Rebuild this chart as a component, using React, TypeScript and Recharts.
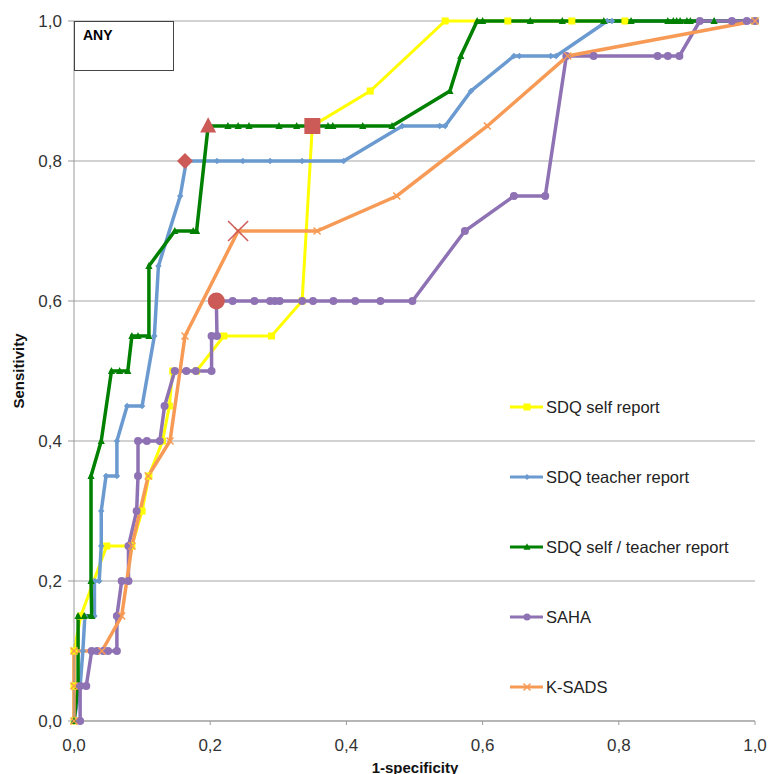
import React from 'react';
import { ComposedChart, Line, XAxis, YAxis, CartesianGrid, Legend } from 'recharts';

// ROC points (x = 1-specificity, y = sensitivity)
const sdqSelf = [
  { x: 0, y: 0 }, { x: 0, y: 0.05 }, { x: 0, y: 0.1 }, { x: 0.01, y: 0.15 }, { x: 0.048, y: 0.25 },
  { x: 0.085, y: 0.25 }, { x: 0.1, y: 0.3 }, { x: 0.11, y: 0.35 }, { x: 0.13, y: 0.4 }, { x: 0.14, y: 0.45 },
  { x: 0.145, y: 0.5 }, { x: 0.18, y: 0.5 }, { x: 0.22, y: 0.55 }, { x: 0.29, y: 0.55 }, { x: 0.335, y: 0.6 },
  { x: 0.35, y: 0.85 }, { x: 0.435, y: 0.9 }, { x: 0.545, y: 1 }, { x: 0.637, y: 1 }, { x: 0.731, y: 1 },
  { x: 0.809, y: 1 }, { x: 1, y: 1 },
];

const sdqTeacher = [
  { x: 0, y: 0 }, { x: 0.009, y: 0.05 }, { x: 0.013, y: 0.1 }, { x: 0.016, y: 0.15 }, { x: 0.03, y: 0.15 },
  { x: 0.03, y: 0.2 }, { x: 0.037, y: 0.2 }, { x: 0.04, y: 0.25 }, { x: 0.04, y: 0.3 }, { x: 0.047, y: 0.35 },
  { x: 0.063, y: 0.35 }, { x: 0.063, y: 0.4 }, { x: 0.078, y: 0.45 }, { x: 0.1, y: 0.45 }, { x: 0.118, y: 0.55 },
  { x: 0.124, y: 0.65 }, { x: 0.156, y: 0.75 }, { x: 0.165, y: 0.8 }, { x: 0.21, y: 0.8 }, { x: 0.248, y: 0.8 },
  { x: 0.288, y: 0.8 }, { x: 0.335, y: 0.8 }, { x: 0.396, y: 0.8 }, { x: 0.482, y: 0.85 }, { x: 0.537, y: 0.85 },
  { x: 0.545, y: 0.85 }, { x: 0.583, y: 0.9 }, { x: 0.646, y: 0.95 }, { x: 0.654, y: 0.95 }, { x: 0.7, y: 0.95 },
  { x: 0.708, y: 0.95 }, { x: 0.783, y: 1 }, { x: 0.79, y: 1 }, { x: 0.94, y: 1 }, { x: 1, y: 1 },
];

const sdqBoth = [
  { x: 0, y: 0 }, { x: 0.006, y: 0.05 }, { x: 0.006, y: 0.15 }, { x: 0.015, y: 0.15 }, { x: 0.026, y: 0.15 },
  { x: 0.025, y: 0.2 }, { x: 0.025, y: 0.35 }, { x: 0.04, y: 0.4 }, { x: 0.055, y: 0.5 }, { x: 0.067, y: 0.5 },
  { x: 0.079, y: 0.5 }, { x: 0.085, y: 0.55 }, { x: 0.094, y: 0.55 }, { x: 0.11, y: 0.55 }, { x: 0.11, y: 0.65 },
  { x: 0.148, y: 0.7 }, { x: 0.175, y: 0.7 }, { x: 0.18, y: 0.7 }, { x: 0.197, y: 0.85 }, { x: 0.226, y: 0.85 },
  { x: 0.241, y: 0.85 }, { x: 0.257, y: 0.85 }, { x: 0.301, y: 0.85 }, { x: 0.327, y: 0.85 }, { x: 0.347, y: 0.85 },
  { x: 0.373, y: 0.85 }, { x: 0.38, y: 0.85 }, { x: 0.424, y: 0.85 }, { x: 0.467, y: 0.85 }, { x: 0.552, y: 0.9 },
  { x: 0.568, y: 0.95 }, { x: 0.592, y: 1 }, { x: 0.6, y: 1 }, { x: 0.67, y: 1 }, { x: 0.717, y: 1 },
  { x: 0.778, y: 1 }, { x: 0.818, y: 1 }, { x: 0.872, y: 1 }, { x: 0.88, y: 1 }, { x: 0.885, y: 1 },
  { x: 0.89, y: 1 }, { x: 0.9, y: 1 }, { x: 0.905, y: 1 }, { x: 0.94, y: 1 }, { x: 1, y: 1 },
];

const saha = [
  { x: 0.009, y: 0 }, { x: 0.009, y: 0.05 }, { x: 0.018, y: 0.05 }, { x: 0.026, y: 0.1 }, { x: 0.034, y: 0.1 },
  { x: 0.043, y: 0.1 }, { x: 0.05, y: 0.1 }, { x: 0.063, y: 0.1 }, { x: 0.063, y: 0.15 }, { x: 0.07, y: 0.2 },
  { x: 0.08, y: 0.2 }, { x: 0.08, y: 0.25 }, { x: 0.092, y: 0.3 }, { x: 0.094, y: 0.35 }, { x: 0.094, y: 0.4 },
  { x: 0.107, y: 0.4 }, { x: 0.126, y: 0.4 }, { x: 0.133, y: 0.45 }, { x: 0.148, y: 0.5 }, { x: 0.165, y: 0.5 },
  { x: 0.179, y: 0.5 }, { x: 0.202, y: 0.5 }, { x: 0.202, y: 0.55 }, { x: 0.21, y: 0.55 }, { x: 0.209, y: 0.6 },
  { x: 0.233, y: 0.6 }, { x: 0.265, y: 0.6 }, { x: 0.288, y: 0.6 }, { x: 0.295, y: 0.6 }, { x: 0.302, y: 0.6 },
  { x: 0.335, y: 0.6 }, { x: 0.351, y: 0.6 }, { x: 0.381, y: 0.6 }, { x: 0.413, y: 0.6 }, { x: 0.45, y: 0.6 },
  { x: 0.497, y: 0.6 }, { x: 0.574, y: 0.7 }, { x: 0.646, y: 0.75 }, { x: 0.692, y: 0.75 }, { x: 0.723, y: 0.95 },
  { x: 0.763, y: 0.95 }, { x: 0.857, y: 0.95 }, { x: 0.872, y: 0.95 }, { x: 0.889, y: 0.95 }, { x: 0.919, y: 1 },
  { x: 0.966, y: 1 }, { x: 0.988, y: 1 }, { x: 1, y: 1 },
];

const ksads = [
  { x: 0, y: 0 }, { x: 0, y: 0.05 }, { x: 0, y: 0.1 }, { x: 0.041, y: 0.1 }, { x: 0.07, y: 0.15 },
  { x: 0.085, y: 0.25 }, { x: 0.109, y: 0.35 }, { x: 0.141, y: 0.4 }, { x: 0.163, y: 0.55 }, { x: 0.241, y: 0.7 },
  { x: 0.357, y: 0.7 }, { x: 0.474, y: 0.75 }, { x: 0.607, y: 0.85 }, { x: 0.725, y: 0.95 }, { x: 1, y: 1 },
];

// chosen cut-off points (big red markers)
const cutSelf = [{ x: 0.35, y: 0.85 }];
const cutTeacher = [{ x: 0.163, y: 0.8 }];
const cutBoth = [{ x: 0.197, y: 0.85 }];
const cutSaha = [{ x: 0.209, y: 0.6 }];
const cutKsads = [{ x: 0.241, y: 0.7 }];

const ticks = [0, 0.2, 0.4, 0.6, 0.8, 1];

const YELLOW = '#FFFF00';
const BLUE = '#6A9AD0';
const GREEN = '#008000';
const PURPLE = '#8E72B4';
const ORANGE = '#F79A55';
const RED = '#CC5B57';

const FONT = '"Liberation Sans", Arial, sans-serif';

type Kind = 'square' | 'diamond' | 'triangle' | 'circle' | 'x';

function Marker({ kind, cx, cy, s, color }: { kind: Kind; cx: number; cy: number; s: number; color: string }) {
  if (kind === 'square') return <rect x={cx - s} y={cy - s} width={s * 2} height={s * 2} fill={color} />;
  if (kind === 'diamond')
    return <polygon points={`${cx},${cy - s} ${cx + s},${cy} ${cx},${cy + s} ${cx - s},${cy}`} fill={color} />;
  if (kind === 'triangle')
    return <polygon points={`${cx},${cy - s * 1.1} ${cx + s},${cy + s * 0.8} ${cx - s},${cy + s * 0.8}`} fill={color} />;
  if (kind === 'circle') return <circle cx={cx} cy={cy} r={s} fill={color} />;
  return (
    <g stroke={color} strokeWidth={1.5}>
      <line x1={cx - s} y1={cy - s} x2={cx + s} y2={cy + s} />
      <line x1={cx - s} y1={cy + s} x2={cx + s} y2={cy - s} />
    </g>
  );
}

const dotFn = (kind: Kind, s: number, color: string) => (p: any) =>
  <Marker key={`m${p.index}`} kind={kind} cx={p.cx} cy={p.cy} s={s} color={color} />;

const legendItems: { name: string; color: string; kind: Kind; s: number }[] = [
  { name: 'SDQ self report', color: YELLOW, kind: 'square', s: 3.5 },
  { name: 'SDQ teacher report', color: BLUE, kind: 'diamond', s: 3 },
  { name: 'SDQ self / teacher report', color: GREEN, kind: 'triangle', s: 3.5 },
  { name: 'SAHA', color: PURPLE, kind: 'circle', s: 3.5 },
  { name: 'K-SADS', color: ORANGE, kind: 'x', s: 3.5 },
];

function renderLegend() {
  return (
    <div style={{ fontFamily: FONT, fontSize: 16.5, color: '#222' }}>
      {legendItems.map((it) => (
        <div key={it.name} style={{ height: 70, display: 'flex', alignItems: 'flex-start' }}>
          <svg width={37} height={20} style={{ display: 'block' }}>
            <line x1={1} y1={10} x2={34} y2={10} stroke={it.color} strokeWidth={3} />
            <Marker kind={it.kind} cx={18} cy={10} s={it.s} color={it.color} />
          </svg>
          <span style={{ lineHeight: '20px' }}>{it.name}</span>
        </div>
      ))}
    </div>
  );
}

const fmt = (v: number) => v.toFixed(1).replace('.', ',');

export default function App() {
  return (
    <div style={{ position: 'absolute', left: 0, top: 0, width: 769, height: 774, background: '#fff' }}>
      <ComposedChart width={769} height={774} margin={{ top: 21, right: 14, bottom: 23, left: 14 }}>
        <CartesianGrid vertical={false} stroke="#A6A6A6" strokeWidth={1.2} />
        <XAxis
          dataKey="x"
          type="number"
          domain={[0, 1]}
          ticks={ticks}
          tickFormatter={fmt}
          height={30}
          stroke="#9A9A9A"
          tickSize={4}
          tickMargin={14}
          tick={{ fill: '#333', fontSize: 17, fontFamily: FONT }}
          allowDuplicatedCategory={false}
        />
        <YAxis
          dataKey="y"
          type="number"
          domain={[0, 1]}
          ticks={ticks}
          tickFormatter={fmt}
          width={60}
          stroke="#9A9A9A"
          tickSize={6}
          tickMargin={6}
          tick={{ fill: '#333', fontSize: 17, fontFamily: FONT }}
        />
        <Line data={sdqSelf} dataKey="y" name="SDQ self report" type="linear" stroke={YELLOW} strokeWidth={3}
          dot={dotFn('square', 3.5, YELLOW)} isAnimationActive={false} legendType="none" />
        <Line data={sdqTeacher} dataKey="y" name="SDQ teacher report" type="linear" stroke={BLUE} strokeWidth={3.5}
          dot={dotFn('diamond', 3.2, BLUE)} isAnimationActive={false} legendType="none" />
        <Line data={sdqBoth} dataKey="y" name="SDQ self / teacher report" type="linear" stroke={GREEN} strokeWidth={3.5}
          dot={dotFn('triangle', 3.6, GREEN)} isAnimationActive={false} legendType="none" />
        <Line data={saha} dataKey="y" name="SAHA" type="linear" stroke={PURPLE} strokeWidth={3.5}
          dot={dotFn('circle', 4, PURPLE)} isAnimationActive={false} legendType="none" />
        <Line data={ksads} dataKey="y" name="K-SADS" type="linear" stroke={ORANGE} strokeWidth={3.5}
          dot={dotFn('x', 3.5, ORANGE)} isAnimationActive={false} legendType="none" />
        <Line data={cutSelf} dataKey="y" stroke="none" dot={dotFn('square', 8, RED)} isAnimationActive={false} legendType="none" />
        <Line data={cutTeacher} dataKey="y" stroke="none" dot={dotFn('diamond', 8, RED)} isAnimationActive={false} legendType="none" />
        <Line data={cutBoth} dataKey="y" stroke="none" dot={dotFn('triangle', 8, RED)} isAnimationActive={false} legendType="none" />
        <Line data={cutSaha} dataKey="y" stroke="none" dot={dotFn('circle', 8.5, RED)} isAnimationActive={false} legendType="none" />
        <Line data={cutKsads} dataKey="y" stroke="none" dot={dotFn('x', 10, RED)} isAnimationActive={false} legendType="none" />
        <Legend
          layout="vertical"
          align="center"
          verticalAlign="middle"
          content={renderLegend}
          wrapperStyle={{ position: 'absolute', left: 509, top: 397, width: 250 }}
        />
      </ComposedChart>
      <div
        style={{
          position: 'absolute', left: 74, top: 21, width: 100, height: 50, border: '1px solid #444',
          boxSizing: 'border-box', background: '#fff', fontFamily: FONT,
          fontWeight: 'bold', fontSize: 14, lineHeight: '16px', padding: '5px 0 0 8px', color: '#000',
        }}
      >
        ANY
      </div>
      <div
        style={{
          position: 'absolute', left: 18, top: 371, transform: 'translate(-50%, -50%) rotate(-90deg)',
          fontFamily: FONT, fontWeight: 'bold', fontSize: 15, color: '#111', whiteSpace: 'nowrap',
        }}
      >
        Sensitivity
      </div>
      <div
        style={{
          position: 'absolute', left: 415, top: 767, transform: 'translate(-50%, -50%)',
          fontFamily: FONT, fontWeight: 'bold', fontSize: 15, color: '#111', whiteSpace: 'nowrap',
        }}
      >
        1-specificity
      </div>
    </div>
  );
}
